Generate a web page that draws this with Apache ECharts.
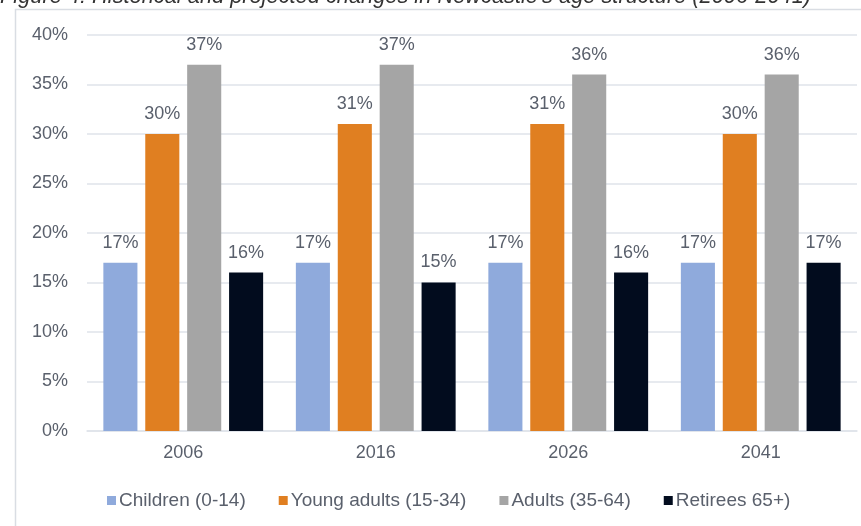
<!DOCTYPE html>
<html>
<head>
<meta charset="utf-8">
<script src="https://cdn.jsdelivr.net/npm/echarts@6/dist/echarts.min.js"></script>
<style>
  html, body { margin: 0; padding: 0; background: #fff; }
  #chart { width: 861px; height: 526px; }
</style>
</head>
<body>
<div id="chart"></div>
<script>
// 数据
const years = ['2006', '2016', '2026', '2041']
const children = [17, 17, 17, 17]
const youngAdults = [30, 31, 31, 30]
const adults = [37, 37, 36, 36]
const retirees = [16, 15, 16, 17]
const yTicks = [0, 5, 10, 15, 20, 25, 30, 35, 40]

const textColor = '#5a606c'
const font = 'Liberation Sans, Arial, sans-serif'

let myChart = echarts.init(document.getElementById('chart'))

// 柱子通用配置
function bar(name, color, data) {
  return {
    name: name,
    type: 'bar',
    barGap: '23%',
    barCategoryGap: '17%',
    itemStyle: { color: color },
    label: {
      show: true,
      position: 'top',
      distance: 11,
      color: textColor,
      fontSize: 18,
      fontFamily: font,
      formatter: p => p.value + '%'
    },
    data: data
  }
}

myChart.setOption({
  animation: false,
  textStyle: { fontFamily: font },
  graphic: [
    {
      type: 'rect',
      shape: { x: 15.5, y: 9.5, width: 900, height: 600 },
      style: { fill: 'none', stroke: '#d9dde3', lineWidth: 1.5 },
      silent: true
    },
    {
      type: 'text',
      left: 0,
      top: -14,
      style: {
        text: "Figure 4: Historical and projected changes in Newcastle's age structure (2006-2041)",
        font: 'italic 21.8px Liberation Sans, Arial, sans-serif',
        fill: '#333'
      }
    }
  ],
  grid: {
    top: 35,
    left: 87,
    right: 4,
    bottom: 95
  },
  legend: {
    show: true,
    left: 102,
    top: 486,
    icon: 'rect',
    itemWidth: 9,
    itemHeight: 9,
    itemGap: 33,
    textStyle: { color: textColor, fontSize: 19, fontFamily: font, padding: [0, 0, 0, -2] },
    data: ['Children (0-14)', 'Young adults (15-34)', 'Adults (35-64)', 'Retirees 65+)']
  },
  xAxis: [{
    type: 'category',
    data: years,
    axisLine: { show: true, lineStyle: { color: '#dfe3ea', width: 1.5 } },
    axisTick: { show: false },
    axisLabel: { color: textColor, fontSize: 18, fontFamily: font, margin: 13 }
  }],
  yAxis: [{
    type: 'value',
    min: yTicks[0],
    max: yTicks[yTicks.length - 1],
    interval: 5,
    axisLine: { show: false },
    axisTick: { show: false },
    axisLabel: { color: textColor, fontSize: 18, fontFamily: font, margin: 19, formatter: '{value}%' },
    splitLine: { lineStyle: { color: '#dfe3ea', width: 1.5 } }
  }],
  series: [
    bar('Children (0-14)', '#8faadc', children),
    bar('Young adults (15-34)', '#e07f21', youngAdults),
    bar('Adults (35-64)', '#a5a5a5', adults),
    bar('Retirees 65+)', '#020c1e', retirees)
  ]
})
</script>
</body>
</html>
